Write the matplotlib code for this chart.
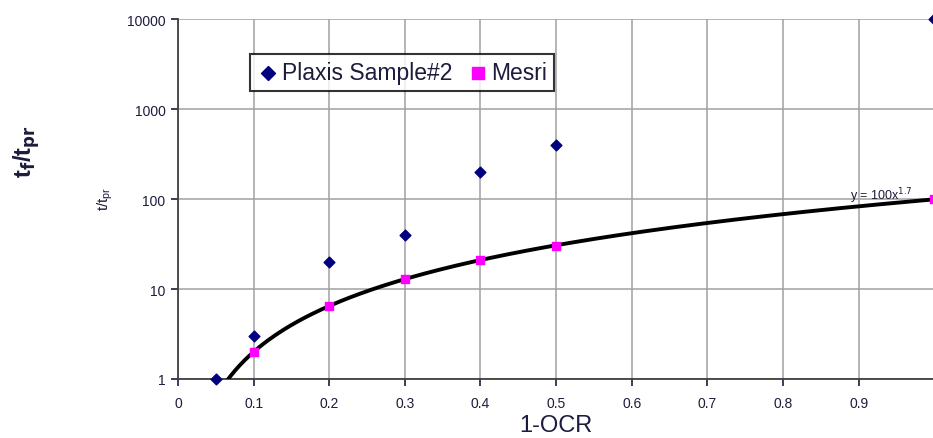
import numpy as np
import matplotlib.pyplot as plt

plt.rcParams['font.family'] = ['Liberation Sans', 'DejaVu Sans']

# data
ocr_plaxis = [0.05, 0.1, 0.2, 0.3, 0.4, 0.5, 1.0]
t_plaxis = [1, 3, 20, 40, 200, 400, 10000]
ocr_mesri = [0.1, 0.2, 0.3, 0.4, 0.5, 1.0]
t_mesri = [2, 6.5, 13, 21, 30, 100]

# power trendline fitted to the Mesri points (like Excel does)
b, loga = np.polyfit(np.log(ocr_mesri), np.log(t_mesri), 1)
a = np.exp(loga)
xs = np.linspace(0.05, 1.0, 300)
ys = a * xs ** b

tc = '#1c1c3c'
fig = plt.figure(figsize=(9.33, 4.39), dpi=100)
ax = fig.add_axes([0.1908, 0.1344, 0.8105, 0.82])

ax.plot(xs, ys, color='black', lw=2.8, zorder=3)
ax.scatter(ocr_plaxis, t_plaxis, marker='D', s=30, color='#000080', zorder=4,
           label='Plaxis Sample#2', clip_on=False)
ax.scatter(ocr_mesri, t_mesri, marker='s', s=40, color='#ff00ff', zorder=4,
           label='Mesri', clip_on=False)

ax.set_yscale('log')
ax.set_xlim(0, 1.0)
ax.set_ylim(1, 10000)
ax.set_xticks(np.arange(0, 1.0, 0.1))
ax.set_xticklabels(['0', '0.1', '0.2', '0.3', '0.4', '0.5', '0.6', '0.7', '0.8', '0.9'])
ax.set_yticks([1, 10, 100, 1000, 10000])
ax.set_yticklabels(['1', '10', '100', '1000', '10000'])
ax.minorticks_off()
ax.tick_params(labelsize=10, colors=tc, length=5, width=1.2, pad=4)
ax.tick_params(axis='x', pad=7)
ax.grid(True, color='#a0a0a0', lw=1.1)
ax.set_axisbelow(True)
for s in ['top', 'right']:
    ax.spines[s].set_visible(False)
for s in ['left', 'bottom']:
    ax.spines[s].set_color('#404040')
    ax.spines[s].set_linewidth(1.3)

ax.text(0.888, 86, 'y = 100x$^{%.1f}$' % b, fontsize=9, color=tc, zorder=2,
        va='bottom')

ax.set_xlabel('1-OCR', fontsize=17, color=tc, labelpad=3)
fig.text(0.113, 0.547, 't/t$_{\\mathregular{pr}}$', rotation=90, fontsize=11, color=tc,
         ha='center', va='center')
fig.text(0.029, 0.655, r't$_\mathbf{f}$/t$_\mathbf{pr}$', rotation=90, fontsize=17,
         fontweight='bold', color=tc, ha='center', va='center')

leg = ax.legend(loc='upper left', bbox_to_anchor=(0.08, 0.935), ncol=2, fontsize=16.5,
                frameon=True, fancybox=False, edgecolor='black', handletextpad=0.1,
                columnspacing=0.6, borderpad=0.3, handlelength=1.0, markerscale=1.3)
leg.get_frame().set_linewidth(1.5)
for t in leg.get_texts():
    t.set_color(tc)

fig.savefig('out.png', dpi=100)
